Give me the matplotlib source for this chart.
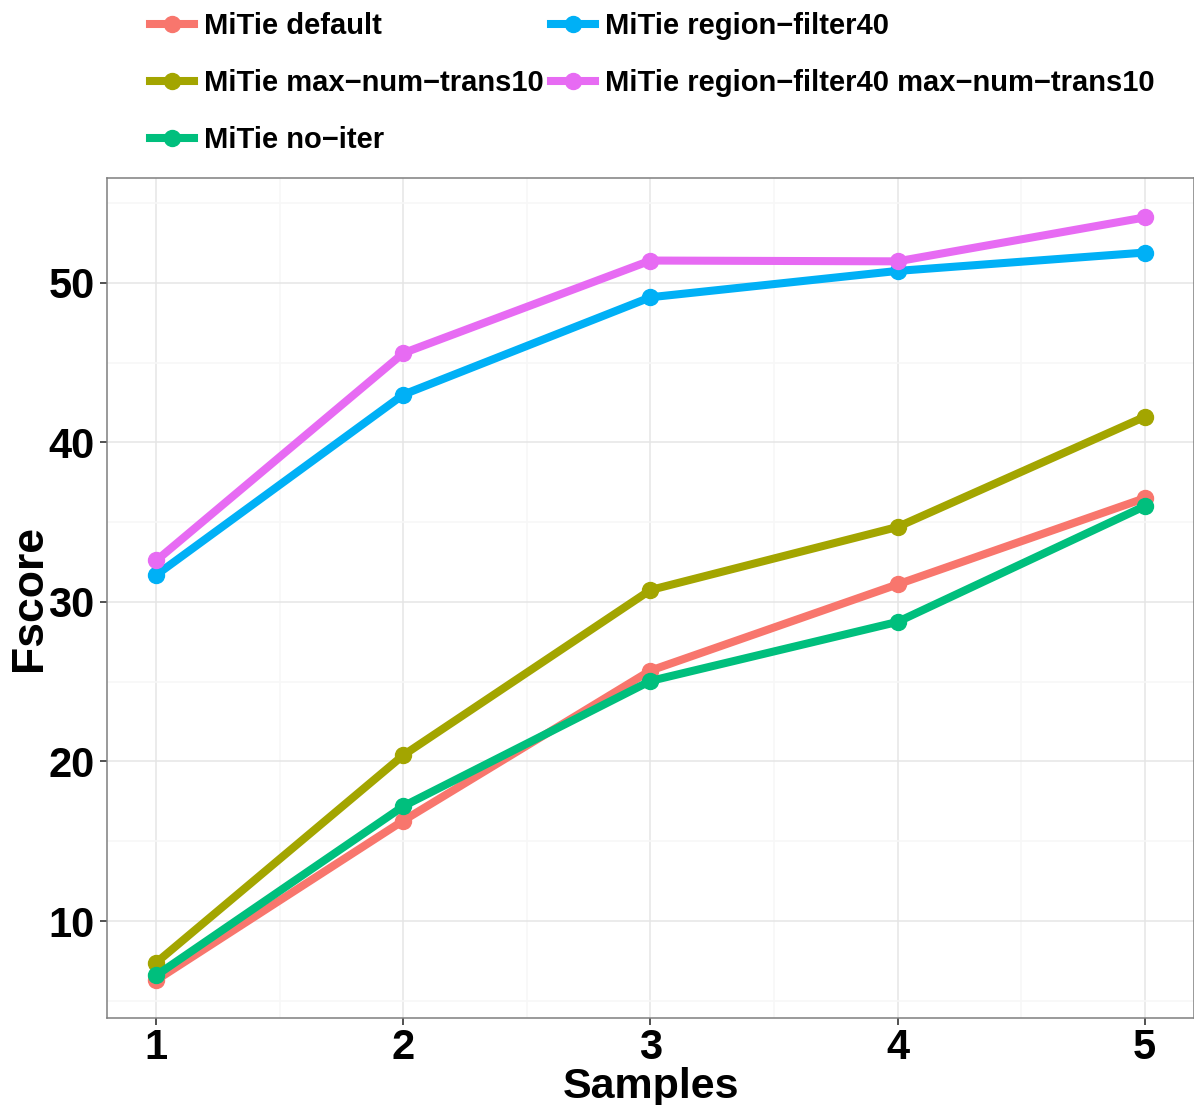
import matplotlib
matplotlib.use("Agg")
import matplotlib.pyplot as plt
from matplotlib.lines import Line2D

plt.rcParams['font.family'] = ['Liberation Sans', 'DejaVu Sans']
plt.rcParams['font.weight'] = 'bold'

# Data
samples = [1, 2, 3, 4, 5]
names = ["MiTie default", "MiTie max\u2212num\u2212trans10", "MiTie no\u2212iter",
         "MiTie region\u2212filter40", "MiTie region\u2212filter40 max\u2212num\u2212trans10"]
default = [6.3, 16.3, 25.7, 31.1, 36.5]
max_num_trans10 = [7.4, 20.4, 30.75, 34.7, 41.6]
no_iter = [6.6, 17.2, 25.05, 28.75, 36.0]
region_filter40 = [31.7, 43.0, 49.1, 50.75, 51.9]
region_max = [32.6, 45.6, 51.4, 51.35, 54.1]
series = [default, max_num_trans10, no_iter, region_filter40, region_max]
colors = ["#F8766D", "#A3A500", "#00BF7D", "#00B0F6", "#E76BF3"]

fig = plt.figure(figsize=(11.94, 11.05), dpi=100)
ax = fig.add_axes([0.0896, 0.0787, 0.9104, 0.7603])

for y, c in zip(series, colors):
    ax.plot(samples, y, color=c, lw=5.8, marker='o', ms=11.5,
            solid_capstyle='butt', zorder=3)

ax.set_xlim(0.8, 5.2)
ax.set_ylim(3.92, 56.58)
ax.set_xticks(samples)
ax.set_yticks([10, 20, 30, 40, 50])
ax.set_xticks([1.5, 2.5, 3.5, 4.5], minor=True)
ax.set_yticks([5, 15, 25, 35, 45, 55], minor=True)
ax.grid(True, which='major', color='#E5E5E5', lw=1.1, zorder=0)
ax.grid(True, which='minor', color='#F7F7F7', lw=1.1, zorder=0)
ax.tick_params(which='minor', length=0)
ax.tick_params(which='major', length=5, width=1.2, color='#333333',
               labelsize=30, pad=4)
ax.tick_params(axis='x', which='major', pad=2)
for lab in ax.get_xticklabels() + ax.get_yticklabels():
    lab.set_fontweight('bold')
for s in ax.spines.values():
    s.set_color('#7F7F7F')
    s.set_linewidth(1.1)

# axis titles
fig.text(651 / 1194, 1 - 1087 / 1105, "Samples", fontsize=31, fontweight='bold',
         ha='center', va='center')
fig.text(29 / 1194, 1 - 598 / 1105, "Fscore", fontsize=32, fontweight='bold',
         ha='center', va='center', rotation=90)

handles = [Line2D([], [], color=c, lw=5.8, marker='o', ms=11.5) for c in colors]
fig.legend(handles, names, ncol=2, loc='upper left', bbox_to_anchor=(150 / 1194, 1 - 12 / 1105),
           frameon=False, handlelength=1.5, handletextpad=0.35, borderpad=0,
           borderaxespad=0, columnspacing=0.25, labelspacing=1.0,
           prop={'weight': 'bold', 'size': 21})

fig.savefig("out.png", dpi=100)
